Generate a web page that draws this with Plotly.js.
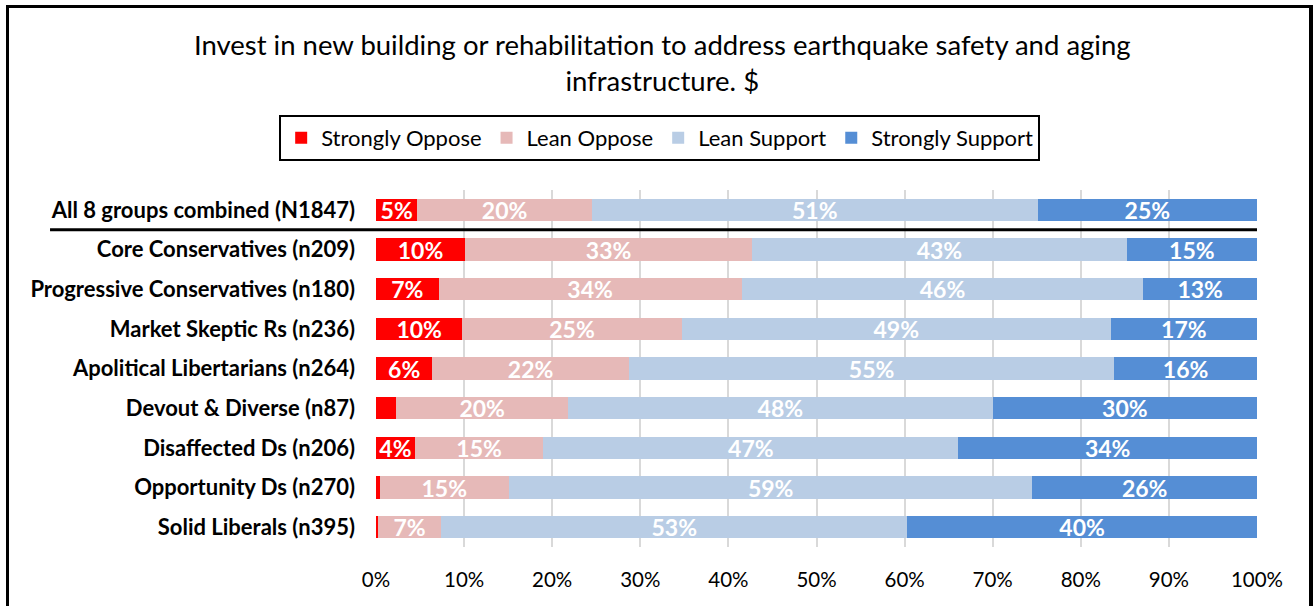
<!DOCTYPE html>
<html>
<head>
<meta charset="utf-8">
<script src="https://cdn.plot.ly/plotly-3.0.1.min.js"></script>
<style>
  html, body { margin:0; padding:0; background:#fff; }
  #chart { position:absolute; left:0; top:0; width:1314px; height:606px; }
  #frame { position:absolute; left:6px; top:5px; width:1300px; height:640px;
           border-left:3px solid #000; border-top:3px solid #000; border-right:4px solid #000;
           pointer-events:none; }
</style>
</head>
<body>
<div id="chart"></div>
<div id="frame"></div>
<script>
const categories = [
  "All 8 groups combined (N1847)",
  "Core Conservatives (n209)",
  "Progressive Conservatives (n180)",
  "Market Skeptic Rs (n236)",
  "Apolitical Libertarians (n264)",
  "Devout & Diverse (n87)",
  "Disaffected Ds (n206)",
  "Opportunity Ds (n270)",
  "Solid Liberals (n395)"
];
const stronglyOppose  = [4.7, 10.1, 7.1, 9.8, 6.4, 2.3, 4.4, 0.4, 0.2];
const leanOppose      = [19.8, 32.6, 34.4, 24.9, 22.3, 19.5, 14.6, 14.7, 7.2];
const leanSupport     = [50.6, 42.5, 45.6, 48.7, 55.1, 48.2, 47.1, 59.4, 52.9];
const stronglySupport = [24.9, 14.8, 12.9, 16.6, 16.2, 30.0, 33.9, 25.5, 39.7];
const seriesNames  = ["Strongly Oppose", "Lean Oppose", "Lean Support", "Strongly Support"];
const seriesColors = ["#FF0000", "#E6B9B8", "#B9CDE5", "#558ED5"];
const xTickVals = [0,10,20,30,40,50,60,70,80,90,100];
const xTickText = ["0%","10%","20%","30%","40%","50%","60%","70%","80%","90%","100%"];

const FONT = "Lato, 'Open Sans', sans-serif";
const labelOf = v => v >= 3 ? Math.round(v) + "%" : "";

const allSeries = [stronglyOppose, leanOppose, leanSupport, stronglySupport];
const traces = allSeries.map((vals, i) => ({
  type: "bar",
  orientation: "h",
  name: seriesNames[i],
  x: vals,
  y: categories,
  marker: { color: seriesColors[i] },
  text: vals.map(labelOf),
  textposition: "inside",
  insidetextanchor: "middle",
  constraintext: "none",
  textangle: 0,
  textfont: { family: FONT, size: 23, color: "#ffffff", weight: "bold" },
  hoverinfo: "none"
}));

const layout = {
  width: 1314, height: 606,
  margin: { l: 376, r: 57, t: 190, b: 59 },
  paper_bgcolor: "#ffffff",
  plot_bgcolor: "#ffffff",
  barmode: "stack",
  bargap: 0.44,
  showlegend: true,
  title: {
    text: "Invest in new building or rehabilitation to address earthquake safety and aging<br>infrastructure. $",
    font: { family: FONT, size: 27.5, color: "#000000" },
    xref: "container", x: 0.504, xanchor: "center",
    yref: "container", y: 0.909, yanchor: "top"
  },
  legend: {
    orientation: "h",
    x: 0.322, xanchor: "center",
    y: 1.21, yanchor: "top",
    bordercolor: "#000000", borderwidth: 2,
    font: { family: FONT, size: 22, color: "#000000" },
    traceorder: "normal"
  },
  xaxis: {
    range: [0, 100],
    tickvals: xTickVals,
    ticktext: xTickText,
    showgrid: true,
    gridcolor: "#d9d9d9",
    gridwidth: 2,
    zeroline: false,
    showline: false,
    ticks: "",
    ticklabelstandoff: 18,
    tickfont: { family: FONT, size: 20.5, color: "#000000" },
    fixedrange: true
  },
  yaxis: {
    type: "category",
    autorange: "reversed",
    showgrid: false,
    zeroline: false,
    showline: false,
    ticks: "",
    ticklabelstandoff: 20,
    tickfont: { family: FONT, size: 22, color: "#000000", weight: "bold" },
    fixedrange: true
  },
  shapes: [{
    type: "line",
    xref: "paper", yref: "y",
    x0: -0.37, x1: 1,
    y0: 0.5, y1: 0.5,
    line: { color: "#000000", width: 3 }
  }]
};

Plotly.newPlot("chart", traces, layout, { displayModeBar: false, staticPlot: true });
</script>
</body>
</html>
